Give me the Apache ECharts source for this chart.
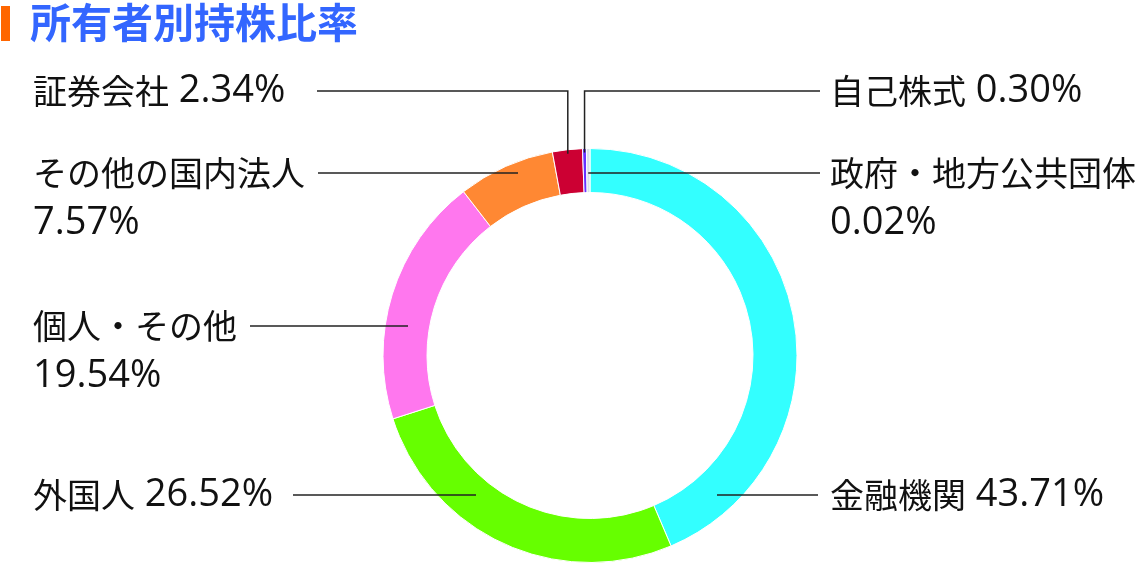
<!DOCTYPE html>
<html>
<head>
<meta charset="utf-8">
<script src="https://cdn.jsdelivr.net/npm/echarts@6/dist/echarts.min.js"></script>
<style>
html,body{margin:0;padding:0;background:#fff;}
#g_canvas{width:1140px;height:564px;}
</style>
</head>
<body>
<div id="g_canvas"></div>
<script>
// 所有者別持株比率 (時計回り、12時から)
var owner_names = ['金融機関', '外国人', '個人・その他', 'その他の国内法人', '証券会社', '自己株式', '政府・地方公共団体'];
var owner_values = [43.71, 26.52, 19.54, 7.57, 2.34, 0.30, 0.02];
var owner_colors = ['#33ffff', '#66ff00', '#ff77ee', '#ff8833', '#cc0033', '#6633ff', '#d6e2e8'];
// ラベルを2行にするか
var owner_wrap = [false, false, true, true, false, false, true];

// ラベル配置 [ラベルx, 線のy, 線の外側x, 線の内側x(nullなら角度から), 'h' or 'elbow']
var label_pos = [
	[830, 495, 818, 717, 'h'],
	[33, 495, 293, 476, 'h'],
	[33, 326, 250, 408, 'h'],
	[33, 173, 318, 518, 'h'],
	[33, 91, 317, null, 'elbow'],
	[830, 91, 820, null, 'elbow'],
	[830, 173, 820, null, 'h']
];

var cx = 590, cy = 355.5, r_out = 207, r_in = 163;
var line_h = 50;
var min_angle = 1;

// 各扇形の中心角(度、12時から時計回り) minAngleも考慮
var total = 0, small_n = 0, big_sum = 0;
for (let i = 0; i < owner_values.length; i++) total += owner_values[i];
for (let i = 0; i < owner_values.length; i++) {
	if (owner_values[i] / total * 360 < min_angle) small_n++;
	else big_sum += owner_values[i];
}
var unit = (360 - small_n * min_angle) / big_sum;
var mid_angle = [];
var acc = 0;
for (let i = 0; i < owner_values.length; i++) {
	var ang = owner_values[i] / total * 360 < min_angle ? min_angle : owner_values[i] * unit;
	mid_angle.push(acc + ang / 2);
	acc += ang;
}

// 引き出し線の点
function leader_points(i) {
	var lp = label_pos[i];
	var a = mid_angle[i] * Math.PI / 180;
	if (lp[4] == 'elbow') {
		var vx = cx + (r_out - 4) * Math.sin(a);
		var vy = cy - (r_out - 4) * Math.cos(a);
		return [[vx, vy], [vx, lp[1]], [lp[2], lp[1]]];
	}
	var ix = lp[3] != null ? lp[3] : cx + (r_out - 2) * Math.sin(a);
	return [[ix, lp[1]], [lp[2], lp[1]]];
}

var pie_data = [];
var leader_lines = [];
for (let i = 0; i < owner_names.length; i++) {
	pie_data.push({
		name: owner_names[i],
		value: owner_values[i],
		itemStyle: { color: owner_colors[i] }
	});
	leader_lines.push({
		type: 'polyline',
		z: 100,
		shape: { points: leader_points(i) },
		style: { stroke: '#222', lineWidth: 1.5, fill: null }
	});
}

option = {
	animation: false,
	title: {
		text: '所有者別持株比率',
		left: 25,
		top: -3,
		textStyle: {
			fontFamily: 'Noto Sans CJK JP',
			fontSize: 41,
			fontWeight: 'bold',
			color: '#3366ff'
		}
	},
	graphic: [{
		type: 'rect',
		shape: { x: 1, y: 6, width: 9, height: 35 },
		style: { fill: '#ff6600' }
	}].concat(leader_lines),
	series: [{
		type: 'pie',
		center: [cx, cy],
		radius: [r_in, r_out],
		startAngle: 90,
		clockwise: true,
		minAngle: min_angle,
		avoidLabelOverlap: false,
		itemStyle: {
			borderColor: '#fff',
			borderWidth: 1
		},
		label: {
			show: true,
			position: 'outside',
			color: '#111',
			formatter: function (p) {
				var v = owner_values[p.dataIndex].toFixed(2) + '%';
				return owner_wrap[p.dataIndex] ? '{n|' + p.name + '}\n{v|' + v + '}' : '{n|' + p.name + '}{v| ' + v + '}';
			},
			rich: {
				n: {
					fontFamily: 'Noto Sans CJK JP',
					fontSize: 34,
					color: '#111',
					lineHeight: line_h
				},
				v: {
					fontFamily: 'Open Sans',
					fontSize: 38,
					color: '#111',
					lineHeight: line_h
				}
			}
		},
		labelLine: { show: false },
		labelLayout: function (params) {
			var lp = label_pos[params.dataIndex];
			return {
				x: lp[0],
				y: lp[1] - line_h / 2,
				align: 'left',
				verticalAlign: 'top'
			};
		},
		data: pie_data
	}]
};
var myChart = echarts.init(document.getElementById('g_canvas'));
myChart.setOption(option);
</script>
</body>
</html>
